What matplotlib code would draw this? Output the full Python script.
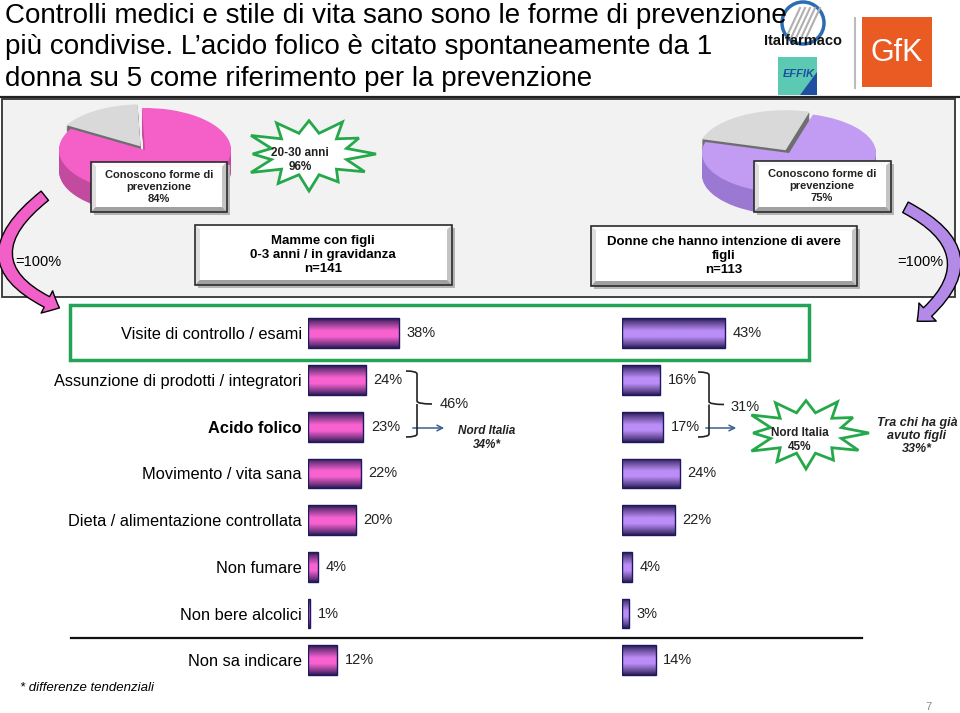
import numpy as np
import matplotlib
matplotlib.use('Agg')
import matplotlib.pyplot as plt
from matplotlib.patches import Rectangle, Polygon, FancyArrowPatch, Circle
from matplotlib.path import Path
from matplotlib.patches import PathPatch
from matplotlib.colors import to_rgb

plt.rcParams['font.family'] = ['Liberation Sans', 'DejaVu Sans']

# ---------------- data ----------------
categories = ["Visite di controllo / esami",
              "Assunzione di prodotti / integratori",
              "Acido folico",
              "Movimento / vita sana",
              "Dieta / alimentazione controllata",
              "Non fumare",
              "Non bere alcolici",
              "Non sa indicare"]
mamme_values = [38, 24, 23, 22, 20, 4, 1, 12]
donne_values = [43, 16, 17, 24, 22, 4, 3, 14]
pie_mamme = [84, 16]     # conoscono / non conoscono
pie_donne = [75, 25]
title_lines = ["Controlli medici e stile di vita sano sono le forme di prevenzione",
               "più condivise. L\u2019acido folico è citato spontaneamente da 1",
               "donna su 5 come riferimento per la prevenzione"]

W, H = 960, 713
fig = plt.figure(figsize=(9.6, 7.13), dpi=100)

# background axes (pixel coordinates)
base = fig.add_axes([0, 0, 1, 1], zorder=0)
base.set_xlim(0, W); base.set_ylim(H, 0); base.axis('off')

# overlay axes
top = fig.add_axes([0, 0, 1, 1], zorder=5)
top.set_xlim(0, W); top.set_ylim(H, 0); top.axis('off')
top.patch.set_alpha(0)

# ---------------- title & header ----------------
for i, line in enumerate(title_lines):
    top.text(5, 16 + i * 31.5, line, fontsize=20, va='center', ha='left', color='black')
base.plot([0, W], [97, 97], color='#222222', lw=1.6)

# logos (approximate)
base.add_patch(Circle((803, 23), 21, fill=False, ec='#2a6db0', lw=2.5))
for k in range(5):
    base.plot([786 + k * 5, 800 + k * 5], [38, 8], color='#b0b0b0', lw=1.5)
base.text(803, 41, "Italfarmaco", fontsize=10.5, fontweight='bold', ha='center', va='center',
          color='#111111', fontstretch='condensed')
base.add_patch(Rectangle((778, 57), 39, 38, fc='#5cc9b2', ec='none'))
base.add_patch(Polygon([(817, 72), (817, 95), (800, 95)], fc='#1f4fa0', ec='none'))
base.text(799, 74, "EFFIK", fontsize=8, fontweight='bold', fontstyle='italic', ha='center',
          va='center', color='#1f4fa0')
base.plot([855, 855], [18, 88], color='#bbbbbb', lw=1.5)
base.add_patch(Rectangle((862, 17), 70, 70, fc='#ea5b24', ec='none'))
base.text(897, 53, "GfK", fontsize=22, color='white', ha='center', va='center')

# gray panel
base.add_patch(Rectangle((2, 99), 953, 198, fc='#f2f2f2', ec='#333333', lw=1.3))

# ---------------- 3D pies ----------------
def pie3d(cx, cy, rx, ry, depth, values, colors, side_colors, startangle, explode):
    m = 0.25
    left = cx - (1 + m) * rx
    right = cx + (1 + m) * rx
    t = cy - (1 + m) * ry
    b = cy + (1 + m) * ry + depth
    ax = fig.add_axes([left / W, 1 - b / H, (right - left) / W, (b - t) / H], zorder=1)
    d = depth / ry
    n = 18
    for k in range(n, 0, -1):
        ax.pie(values, colors=side_colors, startangle=startangle, explode=explode,
               center=(0, -d * k / n), wedgeprops=dict(lw=0))
    ax.pie(values, colors=colors, startangle=startangle, explode=explode,
           wedgeprops=dict(lw=0))
    ax.set_aspect('auto')
    ax.set_xlim(-1 - m, 1 + m)
    ax.set_ylim(-1 - m - d, 1 + m)
    ax.axis('off')
    return ax

pie3d(145, 150, 86, 42, 21, pie_mamme[::-1], ['#d9d9d9', '#f55fc8'],
      ['#6e6e6e', '#c34b9f'], 92, [0.1, 0])
pie3d(789, 153, 87, 40, 22, pie_donne[::-1], ['#d9d9d9', '#c29bf3'],
      ['#6e6e6e', '#9b78d2'], 74, [0.08, 0])

# ---------------- helpers ----------------
def bevel_box(ax, x0, y0, x1, y1, b=5, z=6):
    ax.add_patch(Rectangle((x0 + 3, y0 + 3), x1 - x0, y1 - y0, fc='#b5b5b5', ec='none', zorder=z))
    ax.add_patch(Polygon([(x0, y0), (x1, y0), (x1 - b, y0 + b), (x0 + b, y0 + b)],
                         fc='#fafafa', ec='none', zorder=z))
    ax.add_patch(Polygon([(x0, y0), (x0 + b, y0 + b), (x0 + b, y1 - b), (x0, y1)],
                         fc='#dedede', ec='none', zorder=z))
    ax.add_patch(Polygon([(x0, y1), (x0 + b, y1 - b), (x1 - b, y1 - b), (x1, y1)],
                         fc='#a0a0a0', ec='none', zorder=z))
    ax.add_patch(Polygon([(x1, y0), (x1, y1), (x1 - b, y1 - b), (x1 - b, y0 + b)],
                         fc='#c4c4c4', ec='none', zorder=z))
    ax.add_patch(Rectangle((x0 + b, y0 + b), x1 - x0 - 2 * b, y1 - y0 - 2 * b,
                           fc='white', ec='none', zorder=z))
    ax.add_patch(Rectangle((x0, y0), x1 - x0, y1 - y0, fill=False, ec='#2b2b2b', lw=1.2, zorder=z))


def starburst(ax, cx, cy, rx, ry, z=6):
    outer = [1.0, 0.86, 1.0, 0.9, 0.97, 1.0, 0.84, 1.0, 0.92, 1.0, 0.87, 0.96]
    inner = 0.58
    n = len(outer)
    pts = []
    for i in range(n):
        a1 = 2 * np.pi * i / n
        a2 = 2 * np.pi * (i + 0.5) / n
        pts.append((cx + rx * outer[i] * np.cos(a1), cy - ry * outer[i] * np.sin(a1)))
        pts.append((cx + rx * inner * np.cos(a2), cy - ry * inner * np.sin(a2)))
    ax.add_patch(Polygon(pts, closed=True, fc='white', ec='#25a84a', lw=2.0, zorder=z))


def brace(ax, x, y0, y1, w_hook, w_tip, z=6):
    ym = (y0 + y1) / 2
    verts = [(x - w_hook, y0), (x, y0), (x, y0 + 3),
             (x, ym - 3), (x, ym), (x + w_tip, ym),
             (x, ym), (x, ym + 3),
             (x, y1 - 3), (x, y1), (x - w_hook, y1)]
    codes = [Path.MOVETO, Path.CURVE3, Path.CURVE3,
             Path.LINETO, Path.CURVE3, Path.CURVE3,
             Path.MOVETO, Path.LINETO,
             Path.LINETO, Path.CURVE3, Path.CURVE3]
    ax.add_patch(PathPatch(Path(verts, codes), fill=False, ec='#222222', lw=1.2, zorder=z))

# ---------------- boxes in panel ----------------
bevel_box(top, 91, 162, 227, 212)
top.text(159, 187, "Conoscono forme di\nprevenzione\n" + f"{pie_mamme[0]}%", fontsize=8,
         fontweight='bold', ha='center', va='center', linespacing=1.25, zorder=7, color='#222222')
bevel_box(top, 754, 161, 891, 212)
top.text(822, 186, "Conoscono forme di\nprevenzione\n" + f"{pie_donne[0]}%", fontsize=8,
         fontweight='bold', ha='center', va='center', linespacing=1.25, zorder=7, color='#222222')

starburst(top, 309, 154, 67, 37)
top.text(300, 160, "20-30 anni\n96%", fontsize=8.5, fontweight='bold', ha='center', va='center',
         linespacing=1.3, zorder=7, color='#222222')

bevel_box(top, 195, 225, 452, 285)
top.text(323, 255, "Mamme con figli\n0-3 anni / in gravidanza\nn=141", fontsize=9.5,
         fontweight='bold', ha='center', va='center', linespacing=1.2, zorder=7)
bevel_box(top, 591, 226, 857, 286)
top.text(724, 256, "Donne che hanno intenzione di avere\nfigli\nn=113", fontsize=9.5,
         fontweight='bold', ha='center', va='center', linespacing=1.2, zorder=7)

top.text(15, 262, "=100%", fontsize=10.5, ha='left', va='center', zorder=7)
top.text(897, 262, "=100%", fontsize=10.5, ha='left', va='center', zorder=7)

# curved arrows
top.add_patch(FancyArrowPatch((47, 194), (62, 309), connectionstyle='arc3,rad=0.85',
                              arrowstyle='simple,head_width=1.8,head_length=1.0,tail_width=0.85',
                              mutation_scale=10, fc='#f060c8', ec='black', lw=1.0, zorder=8))
top.add_patch(FancyArrowPatch((903, 206), (915, 323), connectionstyle='arc3,rad=-0.77',
                              arrowstyle='simple,head_width=1.8,head_length=1.0,tail_width=0.85',
                              mutation_scale=10, fc='#b48ae8', ec='black', lw=1.0, zorder=8))

# ---------------- bar charts ----------------
ROW0, ROWH = 310.0, 46.7
PX_PER_PCT = 2.4
XMAX = 60


def grad_rgb(light, dark='#22174e', n=64):
    t = np.linspace(0, 1, n)
    m = np.interp(t, [0, 0.12, 0.42, 0.62, 0.9, 1.0], [0.0, 0.35, 1.0, 1.0, 0.35, 0.05])
    L, D = np.array(to_rgb(light)), np.array(to_rgb(dark))
    return (D[None, :] + (L - D)[None, :] * m[:, None])[:, None, :]


def bar_axes(x0_px, values, light, labels):
    nrow = len(values)
    ax = fig.add_axes([x0_px / W, 1 - (ROW0 + nrow * ROWH) / H, XMAX * PX_PER_PCT / W, nrow * ROWH / H],
                      zorder=3)
    ax.patch.set_alpha(0)
    y = np.arange(nrow)
    bars = ax.barh(y, values, height=0.64, color='none', edgecolor='#1d1860', lw=1.0, zorder=3)
    g = grad_rgb(light)
    for b in bars:
        x, yb, w, h = b.get_x(), b.get_y(), b.get_width(), b.get_height()
        im = ax.imshow(g, extent=(x, x + w, yb + h, yb), aspect='auto', zorder=2,
                       interpolation='bilinear')
        im.set_clip_path(b)
    ax.bar_label(bars, labels=[f"{v}%" for v in values], padding=5.5, fontsize=10.5,
                 color='#222222')
    ax.set_xlim(0, XMAX)
    ax.set_ylim(nrow - 0.5, -0.5)
    for s in ax.spines.values():
        s.set_visible(False)
    ax.set_xticks([])
    if labels is not None:
        ax.set_yticks(y, labels, fontsize=11.8)
        ax.tick_params(axis='y', length=0, pad=4.5)
        ax.get_yticklabels()[2].set_fontweight('bold')
    else:
        ax.set_yticks([])
    return ax

bar_axes(308, mamme_values, '#f862d0', categories)
bar_axes(622, donne_values, '#bb8df6', None)

# green highlight box and separator
top.add_patch(Rectangle((70, 305), 739, 55, fill=False, ec='#23a455', lw=2.5, zorder=6))
top.plot([71, 862], [638, 638], color='#111111', lw=1.6, zorder=6)

# braces, totals, arrows
brace(top, 417, 371, 437, 11, 15)
top.text(440, 404, "46%", fontsize=10.5, ha='left', va='center', color='#222222')
brace(top, 709, 372, 437, 11, 15)
top.text(730, 407, "31%", fontsize=10.5, ha='left', va='center', color='#222222')
top.annotate("", xy=(447, 428), xytext=(410, 428),
             arrowprops=dict(arrowstyle='->', color='#3d5f8f', lw=1.1))
top.annotate("", xy=(739, 428), xytext=(703, 428),
             arrowprops=dict(arrowstyle='->', color='#3d5f8f', lw=1.1))
top.text(487, 438, "Nord Italia\n34%*", fontsize=8.5, fontweight='bold', fontstyle='italic',
         ha='center', va='center', linespacing=1.3, color='#222222')

starburst(top, 806, 433, 63, 36)
top.text(800, 440, "Nord Italia\n45%", fontsize=8.5, fontweight='bold', ha='center', va='center',
         linespacing=1.25, zorder=7, color='#222222')
top.text(917, 436, "Tra chi ha già\navuto figli\n33%*", fontsize=9, fontweight='bold',
         fontstyle='italic', ha='center', va='center', linespacing=1.15, color='#222222')

# footer
top.text(20, 688, "* differenze tendenziali", fontsize=9.5, fontstyle='italic', ha='left', va='center')
top.text(928, 707, "7", fontsize=8, color='#888888', ha='center', va='center')

fig.savefig('out.png', dpi=100)
